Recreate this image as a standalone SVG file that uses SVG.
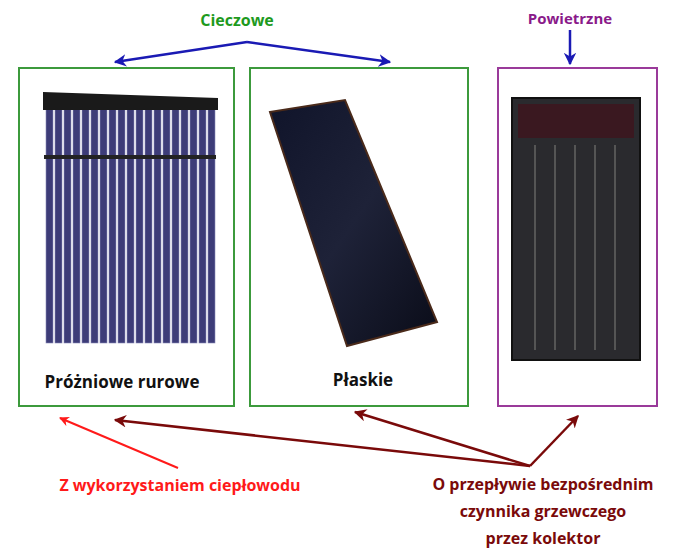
<svg xmlns="http://www.w3.org/2000/svg" width="676" height="550" viewBox="0 0 676 550">
<defs>
<style>
text{font-family:"Open Sans","Liberation Sans",sans-serif;font-weight:bold;text-anchor:middle}
.box{fill:none;stroke-width:2}
.blue{stroke:#1a1ab4;stroke-width:2.5;fill:none}
.dr{stroke:#7a0a0a;stroke-width:2.5;fill:none}
.tube{fill:#3d3c78;stroke:#8a8ab8;stroke-width:0.6}
</style>
<marker id="ab" viewBox="0 0 10 10" refX="9" refY="5" markerWidth="5" markerHeight="5" orient="auto"><path d="M0,0L10,5L0,10L3,5z" fill="#1a1ab4"/></marker>
<marker id="ar" viewBox="0 0 10 10" refX="9" refY="5" markerWidth="5" markerHeight="5" orient="auto"><path d="M0,0L10,5L0,10L3,5z" fill="#ff1a1a"/></marker>
<marker id="ad" viewBox="0 0 10 10" refX="9" refY="5" markerWidth="5" markerHeight="5" orient="auto"><path d="M0,0L10,5L0,10L3,5z" fill="#7a0a0a"/></marker>
<linearGradient id="fp" x1="0" y1="0" x2="1" y2="1"><stop offset="0" stop-color="#10142a"/><stop offset="0.5" stop-color="#1e2238"/><stop offset="1" stop-color="#0a0c18"/></linearGradient>
</defs>
<text x="237" y="26" font-size="16" fill="#1e9a1e">Cieczowe</text>
<text x="570" y="24" font-size="15" fill="#8a1a8a">Powietrzne</text>
<g id="connectors">
<path class="blue" d="M247,42L115,62" marker-end="url(#ab)"/>
<path class="blue" d="M247,42L390,62" marker-end="url(#ab)"/>
<path class="blue" d="M570,30L570,64" marker-end="url(#ab)"/>
<path stroke="#ff1a1a" stroke-width="2" fill="none" d="M178,468L60,418" marker-end="url(#ar)"/>
<path class="dr" d="M530,466L115,420" marker-end="url(#ad)"/>
<path class="dr" d="M530,466L355,412" marker-end="url(#ad)"/>
<path class="dr" d="M530,466L578,416" marker-end="url(#ad)"/>
</g>
<g id="node-tube">
<rect class="box" x="19" y="68" width="215" height="338" stroke="#3c9a3c"/>
<g>
<rect class="tube" x="46" y="108" width="7" height="235"/><rect class="tube" x="55" y="108" width="7" height="235"/><rect class="tube" x="64" y="108" width="7" height="235"/><rect class="tube" x="73" y="108" width="7" height="235"/><rect class="tube" x="82" y="108" width="7" height="235"/><rect class="tube" x="91" y="108" width="7" height="235"/><rect class="tube" x="100" y="108" width="7" height="235"/><rect class="tube" x="109" y="108" width="7" height="235"/><rect class="tube" x="118" y="108" width="7" height="235"/><rect class="tube" x="127" y="108" width="7" height="235"/><rect class="tube" x="136" y="108" width="7" height="235"/><rect class="tube" x="145" y="108" width="7" height="235"/><rect class="tube" x="154" y="108" width="7" height="235"/><rect class="tube" x="163" y="108" width="7" height="235"/><rect class="tube" x="172" y="108" width="7" height="235"/><rect class="tube" x="181" y="108" width="7" height="235"/><rect class="tube" x="190" y="108" width="7" height="235"/><rect class="tube" x="199" y="108" width="7" height="235"/><rect class="tube" x="208" y="108" width="7" height="235"/>
</g>
<rect x="44" y="155" width="172" height="4" fill="#222"/>
<path d="M43,92L218,98L218,110L43,110z" fill="#1a1a1a"/>
<text x="122" y="388" font-size="17" fill="#111">Próżniowe rurowe</text>
</g>
<g id="node-flat">
<rect class="box" x="250" y="68" width="218" height="338" stroke="#3c9a3c"/>
<path d="M270,112L345,100L437,322L347,346z" fill="url(#fp)" stroke="#4a2a1a" stroke-width="2"/>
<text x="363" y="386" font-size="17" fill="#111">Płaskie</text>
</g>
<g id="node-air">
<rect class="box" x="498" y="68" width="159" height="338" stroke="#9a3a9a"/>
<rect x="512" y="98" width="128" height="262" fill="#2a2a2e" stroke="#111" stroke-width="2"/>
<rect x="518" y="104" width="116" height="34" fill="#3a1820"/>
<g stroke="#555" stroke-width="2"><path d="M535,145V350M555,145V350M575,145V350M595,145V350M615,145V350"/></g>
</g>
<text x="180" y="491" font-size="16" fill="#ff1a1a">Z wykorzystaniem ciepłowodu</text>
<text x="543" y="490" font-size="16" fill="#7a0a0a">O przepływie bezpośrednim</text>
<text x="543" y="517" font-size="16" fill="#7a0a0a">czynnika grzewczego</text>
<text x="543" y="544" font-size="16" fill="#7a0a0a">przez kolektor</text>
</svg>
